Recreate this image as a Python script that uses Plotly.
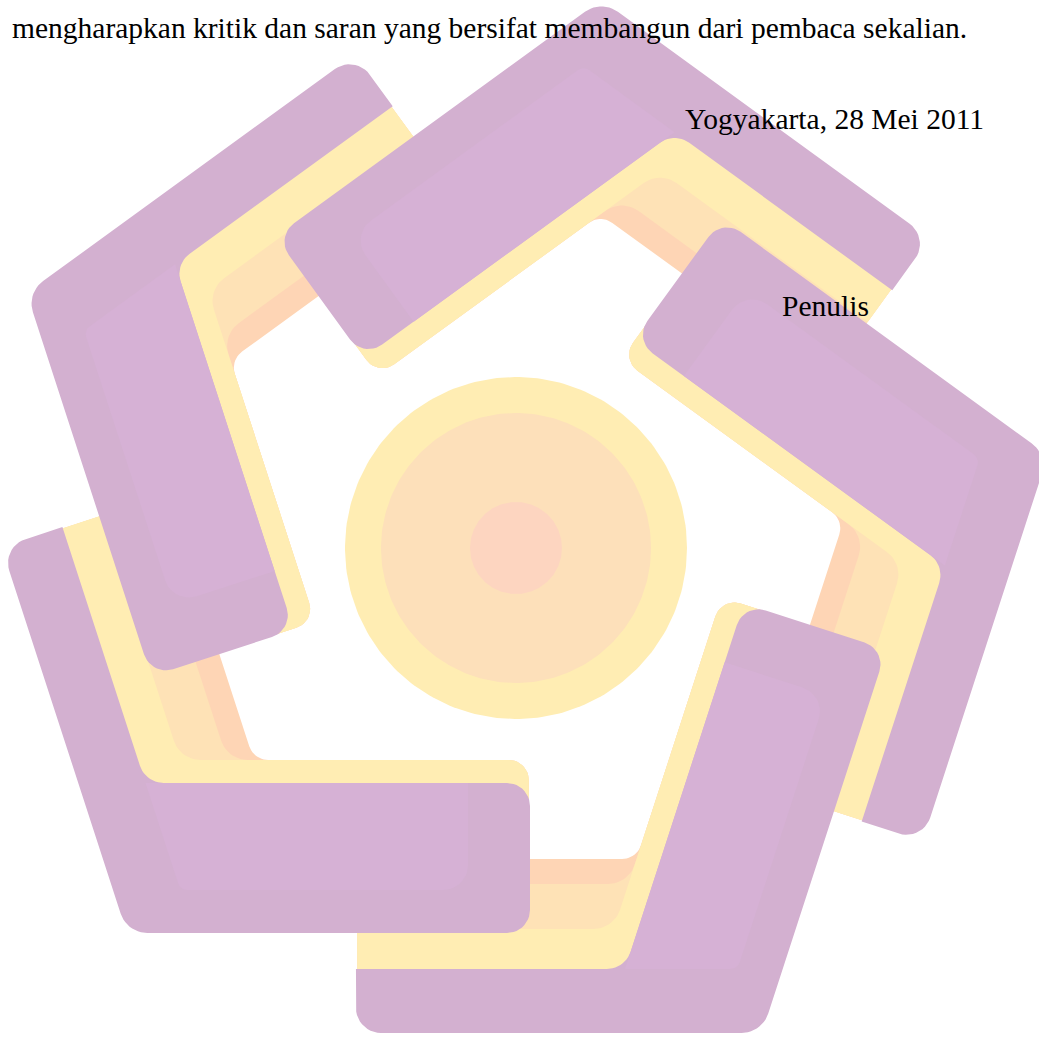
import numpy as np
import plotly.graph_objects as go

W = H = 1039

# ---------------- data: logo geometry (screen pixels, y down) ----------------
CENTER = [516, 548]
ARM_ANGLES_DEG = [0, -72, -144, -216, -288]          # five rotated copies
ARM_SHIFT_X = [0, 0, -9, -3, -3]                       # small per-arm corrections
ARM_SHIFT_Y = [0, -4, -10, -8, -4]
ARM_CORNER = [-389, 385]                               # outer corner of the base arm, relative to centre
THICK_LEN = 403                                        # long bar length
THIN_LEN = 406                                         # short bar length

LAYER_NAMES = ["salmon", "light orange", "yellow", "purple"]
LAYER_COLORS = ["#FED5B5", "#FEE2B6", "#FFEDB3", "#D3B0D0"]
THICK_W = [173, 173, 173, 150]
THIN_W = [174, 149, 104, 64]
INNER_R = [20, 28, 28, 25]
OUTER_INSET = [1.2, 1.2, 1.2, 0.0]

HIGHLIGHT_COLOR = "#D6B1D5"
HIGHLIGHT_OUTER_GAP = 43
HIGHLIGHT_END_GAP = 62

CIRCLE_R = [171, 135, 46]
CIRCLE_COLORS = ["#FFEDB3", "#FDE0BA", "#FDD5C0"]

# ---------------- data: text ----------------
TEXT_LINES = [
    "mengharapkan kritik dan saran yang bersifat membangun dari pembaca sekalian.",
    "Yogyakarta, 28 Mei 2011",
    "Penulis",
]
TEXT_X = [11, 684, 781]
TEXT_BASELINE = [38, 129, 316]
FONT_SIZE = 29.5

# ---------------- helpers ----------------
C72, S72 = np.cos(np.radians(72)), np.sin(np.radians(72))
E1 = np.array([1.0, 0.0])
M1 = np.array([0.0, -1.0])
U = np.array([-C72, -S72])
NRM = np.array([S72, -C72])


def fillet(pts, radii, nseg=12):
    pts = np.asarray(pts, float)
    n = len(pts)
    out = []
    for i in range(n):
        p, a, b, r = pts[i], pts[i - 1], pts[(i + 1) % n], radii[i]
        if r <= 0:
            out.append(p)
            continue
        d1 = p - a
        l1 = np.linalg.norm(d1)
        d1 = d1 / l1
        d2 = b - p
        l2 = np.linalg.norm(d2)
        d2 = d2 / l2
        ang = np.arccos(np.clip(np.dot(-d1, d2), -1, 1))
        t = min(r / np.tan(ang / 2), 0.45 * l1, 0.45 * l2)
        reff = t * np.tan(ang / 2)
        t1, t2 = p - d1 * t, p + d2 * t
        bis = -d1 + d2
        bis = bis / np.linalg.norm(bis)
        c = p + bis * (reff / np.sin(ang / 2))
        a1 = np.arctan2(*(t1 - c)[::-1])
        a2 = np.arctan2(*(t2 - c)[::-1])
        da = (a2 - a1 + np.pi) % (2 * np.pi) - np.pi
        for s in np.linspace(0, 1, nseg):
            aa = a1 + da * s
            out.append(c + reff * np.array([np.cos(aa), np.sin(aa)]))
    return np.array(out)


def layer_polygon(b, a, inner_r, d, is_top):
    O = np.array(ARM_CORNER, float) + np.array([0.7266 * d, -d])
    b2, a2 = b - d, a - d
    L1 = THICK_LEN - 1.7266 * d
    L2 = THIN_LEN - 1.7266 * d
    V0 = O
    V1 = O + L1 * E1
    V2 = V1 + b2 * M1
    s = (b2 - a2 * C72) / S72
    V3 = O + a2 * NRM + s * U
    V4 = O + a2 * NRM + L2 * U
    V5 = O + L2 * U
    radii = [28, 23, 23 if is_top else 20, inner_r, 0, 25]
    return fillet([V0, V1, V2, V3, V4, V5], radii)


def highlight_polygon():
    O = np.array(ARM_CORNER, float)
    b, a = THICK_W[-1], THIN_W[-1]
    ytop = O[1] - b
    ybot = O[1] - HIGHLIGHT_OUTER_GAP
    xr = O[0] + THICK_LEN - HIGHLIGHT_END_GAP
    s_top = (b - a * C72) / S72
    p_top = O + a * NRM + s_top * U
    s_bot = (HIGHLIGHT_OUTER_GAP - a * C72) / S72
    p_bot = O + a * NRM + s_bot * U
    pts = [p_bot, [xr, ybot], [xr, ytop], p_top]
    return fillet(pts, [10, 25, 0, 0])


def place(poly, k):
    t = np.radians(ARM_ANGLES_DEG[k])
    ct, st = np.cos(t), np.sin(t)
    x = poly[:, 0] * ct - poly[:, 1] * st + CENTER[0] + ARM_SHIFT_X[k]
    y = poly[:, 0] * st + poly[:, 1] * ct + CENTER[1] + ARM_SHIFT_Y[k]
    return x, y


fig = go.Figure()

# centre circles
th = np.linspace(0, 2 * np.pi, 240)
for r, col in zip(CIRCLE_R, CIRCLE_COLORS):
    fig.add_trace(go.Scatter(x=CENTER[0] + r * np.cos(th), y=CENTER[1] + r * np.sin(th),
                             fill="toself", fillcolor=col, mode="lines",
                             line=dict(width=0, color=col), hoverinfo="skip", showlegend=False))

# arm layers: all lower layers first, then the purple bands
for li, name in enumerate(LAYER_NAMES):
    poly = layer_polygon(THICK_W[li], THIN_W[li], INNER_R[li], OUTER_INSET[li], li == len(LAYER_NAMES) - 1)
    for k in range(len(ARM_ANGLES_DEG)):
        x, y = place(poly, k)
        fig.add_trace(go.Scatter(x=x, y=y, fill="toself", fillcolor=LAYER_COLORS[li], mode="lines",
                                 line=dict(width=0, color=LAYER_COLORS[li]), name=name,
                                 hoverinfo="skip", showlegend=False))

hp = highlight_polygon()
for k in range(len(ARM_ANGLES_DEG)):
    x, y = place(hp, k)
    fig.add_trace(go.Scatter(x=x, y=y, fill="toself", fillcolor=HIGHLIGHT_COLOR, mode="lines",
                             line=dict(width=0, color=HIGHLIGHT_COLOR),
                             hoverinfo="skip", showlegend=False))

for txt, tx, tb in zip(TEXT_LINES, TEXT_X, TEXT_BASELINE):
    fig.add_annotation(x=tx, y=tb - 0.35 * FONT_SIZE, text=txt, showarrow=False,
                       xanchor="left", yanchor="middle", borderpad=0,
                       font=dict(family="Liberation Serif", size=FONT_SIZE, color="#000000"))

fig.update_layout(
    width=W, height=H, margin=dict(l=0, r=0, t=0, b=0),
    paper_bgcolor="white", plot_bgcolor="white",
    xaxis=dict(range=[0, W], visible=False, fixedrange=True),
    yaxis=dict(range=[H, 0], visible=False, fixedrange=True),
    showlegend=False,
)

fig.write_html("out.html", config={"displayModeBar": False},
               post_script="document.body.style.margin='0px';document.body.style.overflow='hidden';")
